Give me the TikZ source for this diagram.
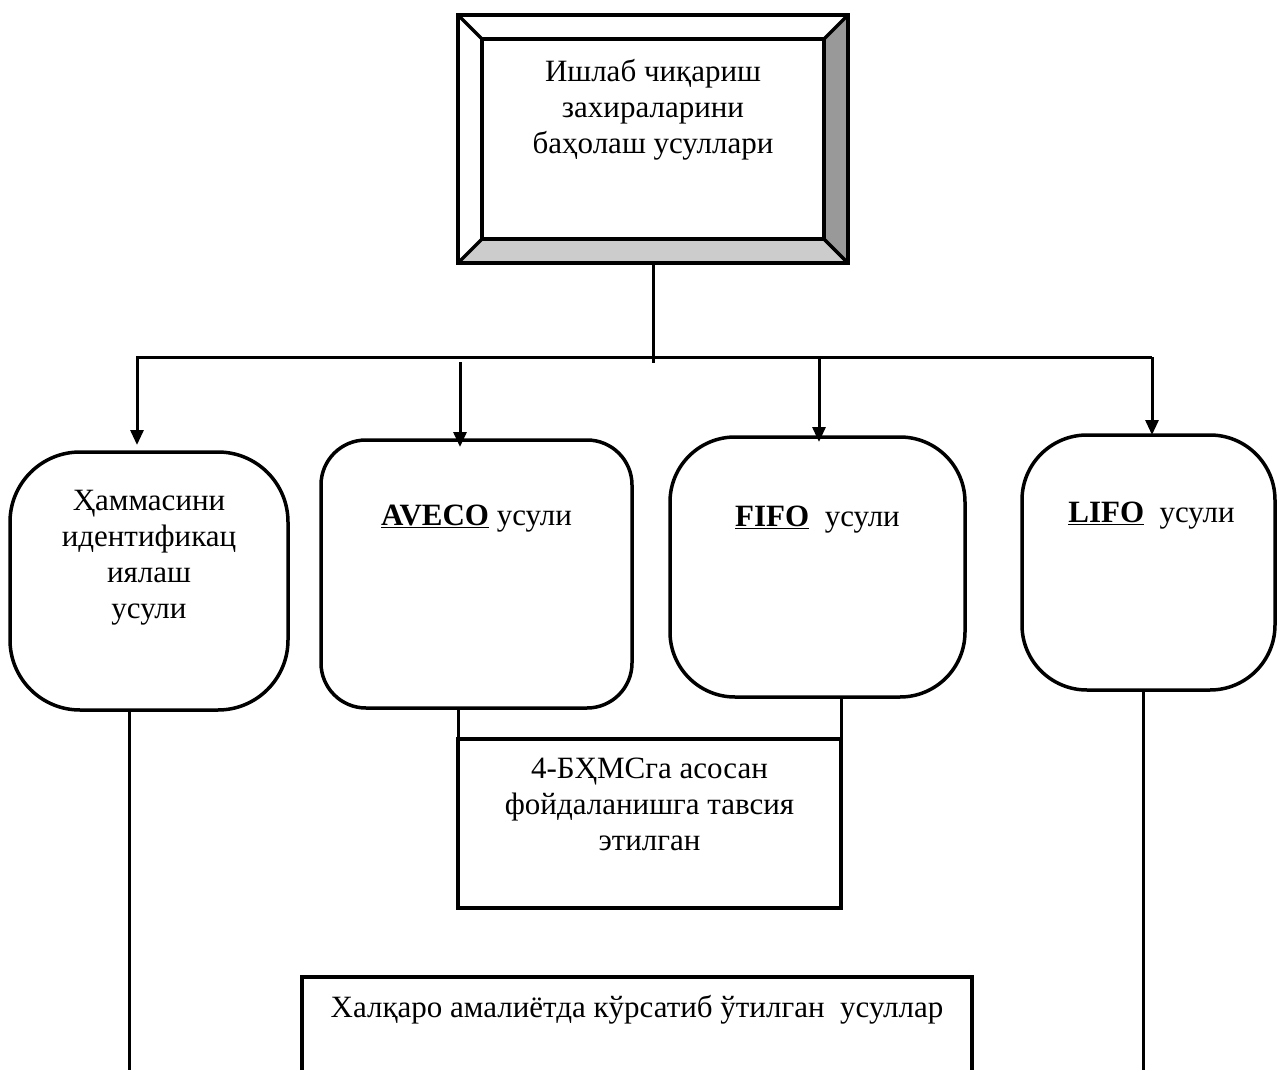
\documentclass[tikz,border=0pt]{standalone}
\usepackage{fontspec}
\setmainfont{Liberation Serif}
\usetikzlibrary{positioning,arrows.meta}

\begin{document}
\begin{tikzpicture}[x=1pt, y=-1pt, line join=miter,
    rbox/.style = {draw, rounded corners=#1, line width=3.5pt, outer sep=0pt},
    rbox/.default = 65pt,
    sqbox/.style = {draw, line width=3.5pt, outer sep=0pt},
    bevel/.style = {draw, line width=3.5pt, outer sep=0pt, minimum width=390pt, minimum height=248pt},
    face/.style = {draw, line width=3.5pt, miter limit=2},
    txt/.style = {font=\fontsize{31}{36}\selectfont, align=center, inner sep=0pt},
    link/.style = {line width=3pt},
    arr/.style = {link, -{Triangle[length=15pt, width=13pt]}}]
            \useasboundingbox (0,0) rectangle (1278,1070);
            \node[bevel] (1) at (653,139) {};
            \filldraw[face, fill=gray!40] (1.south west) -- (1.south east) -- ([shift={(-24,-24)}]1.south east) -- ([shift={(24,-24)}]1.south west) -- cycle;
            \filldraw[face, fill=gray!80] (1.north east) -- (1.south east) -- ([shift={(-24,-24)}]1.south east) -- ([shift={(-24,24)}]1.north east) -- cycle;
            \draw[face] ([shift={(24,24)}]1.north west) rectangle ([shift={(-24,-24)}]1.south east);
            \draw[face] (1.north west) -- ++(24,24);
            \draw[sqbox] (1.north west) rectangle (1.south east);
            \node[txt, below=44pt of 1.north] (t1) {Ишлаб чиқариш\\захираларини\\баҳолаш усуллари};

            \node[rbox=70pt, minimum width=278pt, minimum height=258pt] (2) at (149,581) {};
            \node[rbox=45pt, minimum width=311pt, minimum height=268pt] (3) at (476.5,574) {};
            \node[rbox, minimum width=295pt, minimum height=260pt] (4) at (817.5,567) {};
            \node[rbox, minimum width=253pt, minimum height=255pt] (5) at (1148.5,562.5) {};
            \node[sqbox, minimum width=383pt, minimum height=169pt] (6) at (649.5,823.5) {};
            \node[sqbox, minimum width=670pt, minimum height=200pt] (7) at (637,1077) {};

            \node[txt, below=38pt of 2.north] (t2) {Ҳаммасини\\идентификац\\иялаш\\усули};
            \node[txt, below=65pt of 3.north] (t3) {\textbf{\underline{AVECO}} усули};
            \node[txt, below=69pt of 4.north] (t4) {\textbf{\underline{FIFO}}\ \ усули};
            \node[txt, below=67pt of 5.north, xshift=3pt] (t5) {\textbf{\underline{LIFO}}\ \ усули};
            \node[txt, below=19pt of 6.north] (t6) {4-БҲМСга асосан\\фойдаланишга тавсия\\этилган};
            \node[txt, below=18pt of 7.north] (t7) {Халқаро амалиётда кўрсатиб ўтилган\ \ усуллар};

            \coordinate (a) at (651,363);
            \coordinate (bl) at (137,357);
            \coordinate (br) at (1152,357);
            \coordinate (c) at (460,362);
            \coordinate (d) at (819,357);
            \coordinate (e) at (129,1080);
            \coordinate (f) at (1143,1080);
            \draw[link] (1) -- (1 |- a);
            \draw[arr, shorten >=7pt] (br) -- (bl) -- (bl |- 2.north);
            \draw[arr, shorten >=-7pt] (c) -- (c |- 3.north);
            \draw[arr, shorten >=-5pt] (d) -- (d |- 4.north);
            \draw[arr] (br) -- (br |- 5.north);
            \draw[link] (6.south west) -- (6.south west |- 3.south);
            \draw[link] (6.north east) -- (6.north east |- 4.south);
            \draw[link] (e |- 2.south) -- (e);
            \draw[link] (f |- 5.south) -- (f);
        \end{tikzpicture}
\end{document}
